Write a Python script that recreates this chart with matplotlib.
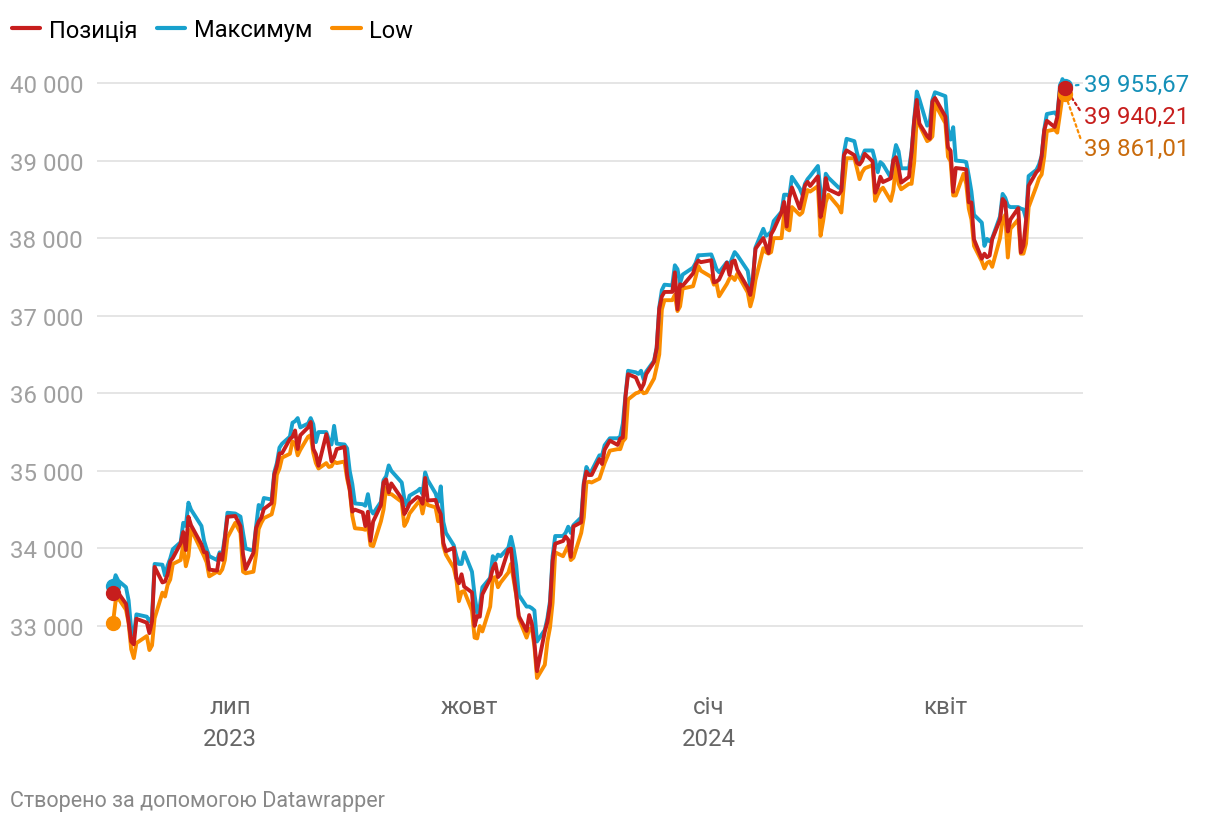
import numpy as np
import pandas as pd
import matplotlib
matplotlib.use('Agg')
import matplotlib.pyplot as plt
from matplotlib.lines import Line2D

plt.rcParams['font.family'] = ['Roboto', 'DejaVu Sans']

# trading days, 17.05.2023 - 17.05.2024 (NYSE holidays removed)
holidays = ['2023-05-29', '2023-06-19', '2023-07-04', '2023-09-04', '2023-11-23',
            '2023-12-25', '2024-01-01', '2024-01-15', '2024-02-19', '2024-03-29']
days = pd.bdate_range('2023-05-17', '2024-05-17')
days = days[~days.isin(pd.to_datetime(holidays))]

# Позиція
position = [
    33420, 33535, 33427, 33286, 33055, 32800, 32764, 33093, 33043, 32908,
    33061, 33762, 33562, 33573, 33665, 33833, 33876, 34066, 34212, 33979,
    34408, 34299, 34053, 33952, 33946, 33727, 33714, 33927, 33852, 34122, 34408,
    34418, 34288, 33922, 33734, 33944, 34261, 34347, 34395, 34509, 34585,
    34952, 35061, 35225, 35228, 35411, 35438, 35520, 35282, 35459, 35560,
    35630, 35283, 35215, 35066, 35473, 35314, 35123, 35176, 35281, 35308,
    34946, 34766, 34475, 34500, 34463, 34288, 34473, 34099, 34347, 34559,
    34852, 34890, 34722,
    34838, 34642, 34443, 34501, 34577, 34664, 34646, 34576, 34908, 34618,
    34625, 34518, 34441, 34070, 33964, 34007, 33619, 33551, 33667, 33508,
    33433, 33002, 33129, 33120, 33408, 33605, 33740, 33805, 33631, 33670,
    33985, 33998, 33665, 33415, 33127, 32937, 33141, 33036, 32785, 32418,
    32929, 33053,
    33275, 33839, 34061, 34096, 34153, 34112, 33892, 34283, 34337, 34828,
    34991, 34945, 34947, 35151, 35088, 35273, 35390, 35334, 35417, 35430, 35951,
    36246, 36204, 36125, 36054, 36118, 36248, 36405, 36578, 37090, 37248,
    37306, 37307, 37558, 37083, 37405, 37386, 37545, 37657, 37710, 37690,
    37715, 37430, 37440, 37466, 37683, 37525, 37696, 37711, 37593, 37361,
    37267, 37469, 37864, 38001, 37906, 37807, 38050, 38109, 38333, 38467, 38150,
    38520, 38654, 38380, 38521, 38677, 38726, 38672, 38797, 38273, 38424,
    38773, 38628, 38564, 38612, 39069, 39131, 39069, 38972, 38949, 38996,
    39087, 38990, 38585, 38661, 38791, 38723, 38770, 39005, 39043, 38906,
    38715, 38790, 39110, 39512, 39781, 39476, 39314, 39282, 39760, 39807,
    39567, 39170, 39127, 38597, 38904, 38892, 38884, 38462, 38459, 37983,
    37735, 37799, 37753, 37775, 37986, 38240, 38504, 38461, 38086, 38240,
    38386, 37816,
    37903, 38226, 38676, 38852, 38884, 39056, 39388, 39513, 39432, 39558,
    39908, 39869, 39940.21,
]

# Максимум
maximum = [
    33515, 33655, 33585, 33500, 33330, 32960, 32880, 33150, 33120, 33060,
    33120, 33800, 33790, 33650, 33780, 33870, 33990, 34080, 34330, 34290,
    34590, 34500, 34290, 34100, 33990, 33900, 33850, 33950, 33920, 34150, 34460,
    34450, 34410, 34200, 34000, 33970, 34280, 34560, 34510, 34650, 34630,
    34980, 35100, 35300, 35350, 35440, 35620, 35640, 35680, 35560, 35610,
    35680, 35600, 35370, 35500, 35500, 35400, 35340, 35580, 35350, 35340,
    35290, 35000, 34830, 34580, 34570, 34550, 34700, 34500, 34450, 34600,
    34880, 34930, 35070,
    35000, 34850, 34640, 34550, 34680, 34740, 34770, 34700, 34980, 34880,
    34710, 34600, 34800, 34340, 34200, 34040, 33900, 33800, 33800, 33950,
    33700, 33400, 33170, 33250, 33500, 33620, 33900, 33850, 33920, 33900,
    34010, 34150, 34000, 33780, 33400, 33250, 33250, 33230, 33200, 32800,
    32950, 33100,
    33320, 33900, 34160, 34160, 34200, 34280, 34200, 34300, 34400, 34850,
    35050, 34980, 35000, 35200, 35200, 35330, 35420, 35420, 35440, 35610, 35970,
    36290, 36270, 36250, 36290, 36180, 36280, 36420, 36590, 37110, 37330,
    37400, 37390, 37650, 37600, 37420, 37530, 37620, 37680, 37780, 37780,
    37790, 37700, 37600, 37560, 37690, 37650, 37740, 37820, 37780, 37580,
    37370, 37480, 37880, 38120, 38030, 38050, 38080, 38220, 38340, 38560, 38560,
    38540, 38790, 38640, 38560, 38700, 38760, 38800, 38930, 38600, 38440,
    38830, 38780, 38650, 38640, 39100, 39280, 39250, 39100, 38980, 39050,
    39130, 39130, 39000, 38850, 38980, 38950, 38780, 39020, 39200, 39120,
    38900, 38900, 39120, 39530, 39890, 39790, 39450, 39500, 39780, 39880,
    39830, 39400, 39270, 39430, 39000, 38990, 38980, 38800, 38600, 38300,
    38200, 37900, 37990, 37960, 38000, 38280, 38570, 38520, 38420, 38400,
    38400, 38380,
    38370, 38250, 38800, 38880, 38950, 39060, 39400, 39600, 39620, 39580,
    39930, 40050, 39955.67,
]

# Low
low = [
    33040, 33320, 33360, 33210, 33040, 32700, 32586, 32780, 32870, 32690,
    32750, 33100, 33430, 33380, 33530, 33600, 33800, 33850, 34050, 33770,
    33900, 34250, 33970, 33900, 33820, 33640, 33700, 33680, 33730, 33850, 34140,
    34330, 34200, 33700, 33680, 33700, 33920, 34250, 34330, 34390, 34440,
    34580, 34950, 35030, 35170, 35220, 35380, 35350, 35200, 35270, 35440,
    35460, 35230, 35100, 35030, 35100, 35050, 35060, 35120, 35100, 35120,
    34900, 34750, 34420, 34260, 34250, 34240, 34290, 34040, 34030, 34350,
    34500, 34780, 34700,
    34700, 34600, 34290, 34350, 34450, 34580, 34620, 34450, 34620, 34560,
    34530, 34350, 34420, 34030, 33920, 33750, 33600, 33320, 33440, 33450,
    33200, 32850, 32840, 33000, 32930, 33250, 33620, 33630, 33500, 33560,
    33690, 33800, 33600, 33400, 33100, 32850, 32960, 32970, 32740, 32330,
    32500, 32800,
    32980, 33300, 33950, 33900, 33970, 34040, 33850, 33880, 34200, 34400,
    34850, 34860, 34850, 34900, 35000, 35100, 35260, 35280, 35280, 35380, 35420,
    35920, 36000, 36010, 36040, 36000, 36010, 36190, 36340, 36500, 37080,
    37200, 37200, 37270, 37060, 37120, 37350, 37380, 37500, 37640, 37580,
    37500, 37400, 37420, 37250, 37410, 37480, 37500, 37460, 37540, 37300,
    37120, 37240, 37460, 37870, 37820, 37800, 37820, 38000, 38000, 38320, 38120,
    38100, 38400, 38300, 38330, 38480, 38620, 38600, 38670, 38030, 38220,
    38460, 38560, 38400, 38330, 38700, 39030, 39030, 38900, 38760, 38850,
    38900, 38940, 38480, 38560, 38620, 38650, 38480, 38620, 38950, 38700,
    38630, 38700, 38700, 38980, 39550, 39460, 39250, 39270, 39310, 39730,
    39480, 39050, 38990, 38550, 38550, 38830, 38700, 38380, 38240, 37900,
    37700, 37610, 37680, 37700, 37630, 38000, 38240, 38300, 37750, 38120,
    38240, 37800,
    37800, 37930, 38400, 38670, 38770, 38820, 39050, 39380, 39400, 39360,
    39590, 39830, 39861.01,
]

assert len(days) == len(position) == len(maximum) == len(low)

names = ['Позиція', 'Максимум', 'Low']
colors = ['#c71e1d', '#18a1cd', '#fa8c00']
label_colors = ['#c71e1d', '#1590b8', '#c96b0c']
yticks = [33000, 34000, 35000, 36000, 37000, 38000, 39000, 40000]
xticks = ['2023-07-01', '2023-10-01', '2024-01-01', '2024-04-01']
xticklabels = ['лип\n2023', 'жовт', 'січ\n2024', 'квіт']

fig = plt.figure(figsize=(12.2, 8.28), dpi=100)
ax = fig.add_axes([97 / 1220, 138 / 828, 986 / 1220, 630 / 828])

series = [position, maximum, low]
# draw order: Low at the bottom, Позиція on top
for i in [2, 1, 0]:
    vals = series[i]
    ax.plot(days, vals, color=colors[i], lw=2.8, solid_joinstyle='round',
            solid_capstyle='round', zorder=3 + (2 - i))
    ax.plot([days[0], days[-1]], [vals[0], vals[-1]], 'o', ms=10,
            color=colors[i], zorder=6 + (2 - i))

# labels at the end of each line
offsets = [(19, -29), (19, 2), (19, -55)]
for i in range(3):
    txt = f"{series[i][-1]:,.2f}".replace(',', ' ').replace('.', ',')
    ax.annotate(txt, xy=(days[-1], series[i][-1]), xytext=offsets[i],
                textcoords='offset pixels', ha='left', va='center',
                fontsize=17.3, color=label_colors[i],
                arrowprops=dict(arrowstyle='-', color=colors[i], lw=1.6,
                                linestyle=(0, (1.2, 1.5)), shrinkA=2, shrinkB=6,
                                relpos=(0, 0.5)))

ax.set_xlim(days[0] - pd.Timedelta(days=6.15), days[-1] + pd.Timedelta(days=6.9))
ax.set_ylim(32188, 40309)

ax.set_yticks(yticks)
ax.set_yticklabels([f"{v:,}".replace(',', ' ') for v in yticks])
ax.set_xticks(pd.to_datetime(xticks))
ax.set_xticklabels(xticklabels)
for lbl in ax.get_xticklabels():
    lbl.set_linespacing(1.5)

ax.tick_params(axis='y', length=0, pad=10, labelsize=17.3, labelcolor='#a0a0a0')
ax.tick_params(axis='x', length=0, pad=4, labelsize=17.3, labelcolor='#666666')
ax.grid(axis='y', color='#e3e3e3', lw=1.3, zorder=0)
ax.grid(axis='x', visible=False)
for s in ax.spines.values():
    s.set_visible(False)

handles = [Line2D([], [], color=c, lw=3, solid_capstyle='round') for c in colors]
fig.legend(handles, names, loc='center left', bbox_to_anchor=(12 / 1220, 1 - 31 / 828),
           ncol=3, frameon=False, fontsize=17, handlelength=1.2, handletextpad=0.35,
           columnspacing=0.85, borderpad=0, borderaxespad=0)

fig.text(10 / 1220, 1 - 802 / 828, 'Створено за допомогою Datawrapper',
         fontsize=15.5, color='#888888', va='center', ha='left')

fig.savefig('out.png', dpi=100)
